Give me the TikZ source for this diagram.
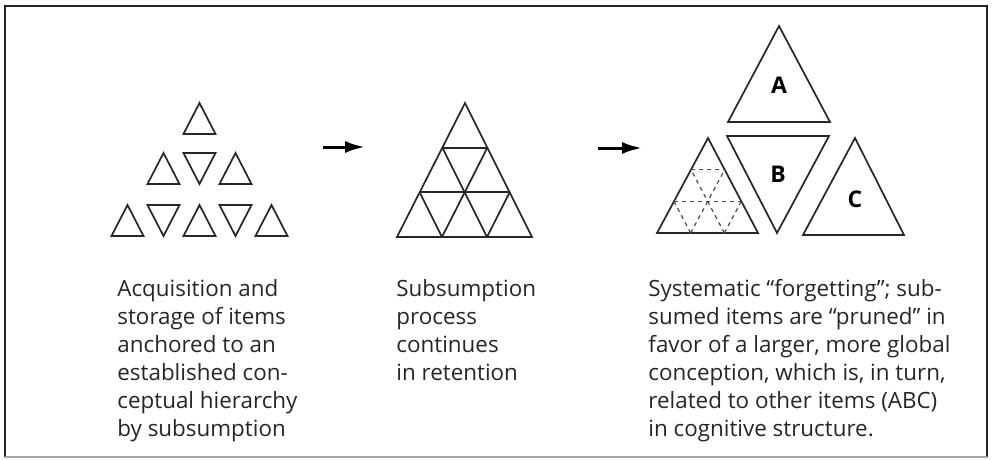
\documentclass[tikz,border=0pt]{standalone}
\usepackage{fontspec}
\setmainfont{Open Sans}
\usetikzlibrary{arrows.meta,calc}
\begin{document}
\begin{tikzpicture}[x=0.5pt,y=-0.5pt,
  tri/.style={draw=black!85,line width=0.85pt,line join=miter},
  gridline/.style={draw=black!85,line width=0.85pt},
  dgrid/.style={draw=black!70,line width=0.6pt,dash pattern=on 2pt off 2pt},
  flow/.style={draw=black,line width=1.5pt,-{Latex[length=10pt,width=6pt]}},
  captext/.style={align=left,anchor=north west,inner sep=0pt,font=\fontsize{11.2}{14}\selectfont,text=black!85},
  lab/.style={inner sep=0pt,font=\fontsize{11.5}{13}\selectfont\bfseries}]
\useasboundingbox (0,0) rectangle (995,460);
% frame
\draw[line width=1pt,black!85] (5,457) -- (5,6) -- (987,6) -- (987,457);
\draw[line width=0.8pt,black!35] (5,457) -- (987,457);

% group 1: separate small triangles
\foreach \cx/\yt in {199.5/103, 163.5/153, 235.5/153, 127.5/205, 199.5/205, 271.5/205}
  \draw[tri] (\cx,\yt) -- (\cx-16,\yt+31) -- (\cx+16,\yt+31) -- cycle;
\foreach \cx/\yt in {199.5/153, 163.5/205, 235.5/205}
  \draw[tri] (\cx-16,\yt) -- (\cx+16,\yt) -- (\cx,\yt+31) -- cycle;

% arrow 1
\coordinate (a1s) at (323,147);
\coordinate (a1e) at (365,147);
\draw[flow] (a1s) -- (a1e);

% group 2: subdivided triangle
\coordinate (T) at (465,103);
\coordinate (L) at (397,237);
\coordinate (R) at (532,237);
\draw[tri] (T) -- (L) -- (R) -- cycle;
\foreach \f in {1/3,2/3} {
  \draw[gridline] ($(T)!\f!(L)$) -- ($(T)!\f!(R)$);
  \draw[gridline] ($(L)!\f!(R)$) -- ($(L)!\f!(T)$);
  \draw[gridline] ($(R)!\f!(L)$) -- ($(R)!\f!(T)$);
}

% arrow 2
\coordinate (a2s) at (598,148);
\coordinate (a2e) at (642,148);
\draw[flow] (a2s) -- (a2e);

% group 3
\coordinate (T2) at (708,138);
\coordinate (L2) at (657,233);
\coordinate (R2) at (758,233);
\draw[tri] (T2) -- (L2) -- (R2) -- cycle;
\foreach \f in {1/3,2/3} {
  \draw[dgrid] ($(T2)!\f!(L2)$) -- ($(T2)!\f!(R2)$);
  \draw[dgrid] ($(L2)!\f!(R2)$) -- ($(L2)!\f!(T2)$);
  \draw[dgrid] ($(R2)!\f!(L2)$) -- ($(R2)!\f!(T2)$);
}
\draw[tri] (779,26) -- (728,122) -- (830,122) -- cycle;
\draw[tri] (727,136) -- (829,136) -- (777,233) -- cycle;
\draw[tri] (855,138) -- (803,235) -- (904,235) -- cycle;
\node[lab] (A) at (779,85) {A};
\node[lab] (B) at (778,174) {B};
\node[lab] (C) at (855,199) {C};

% captions
\node[captext] (t1) at (117,279) {Acquisition and\\storage of items\\anchored to an\\established con-\\ceptual hierarchy\\by subsumption};
\node[captext] (t2) at (396,279) {Subsumption\\process\\continues\\in retention};
\node[captext] (t3) at (648,279) {Systematic “forgetting”; sub-\\sumed items are “pruned” in\\favor of a larger, more global\\conception, which is, in turn,\\related to other items (ABC)\\in cognitive structure.};
\end{tikzpicture}
\end{document}
